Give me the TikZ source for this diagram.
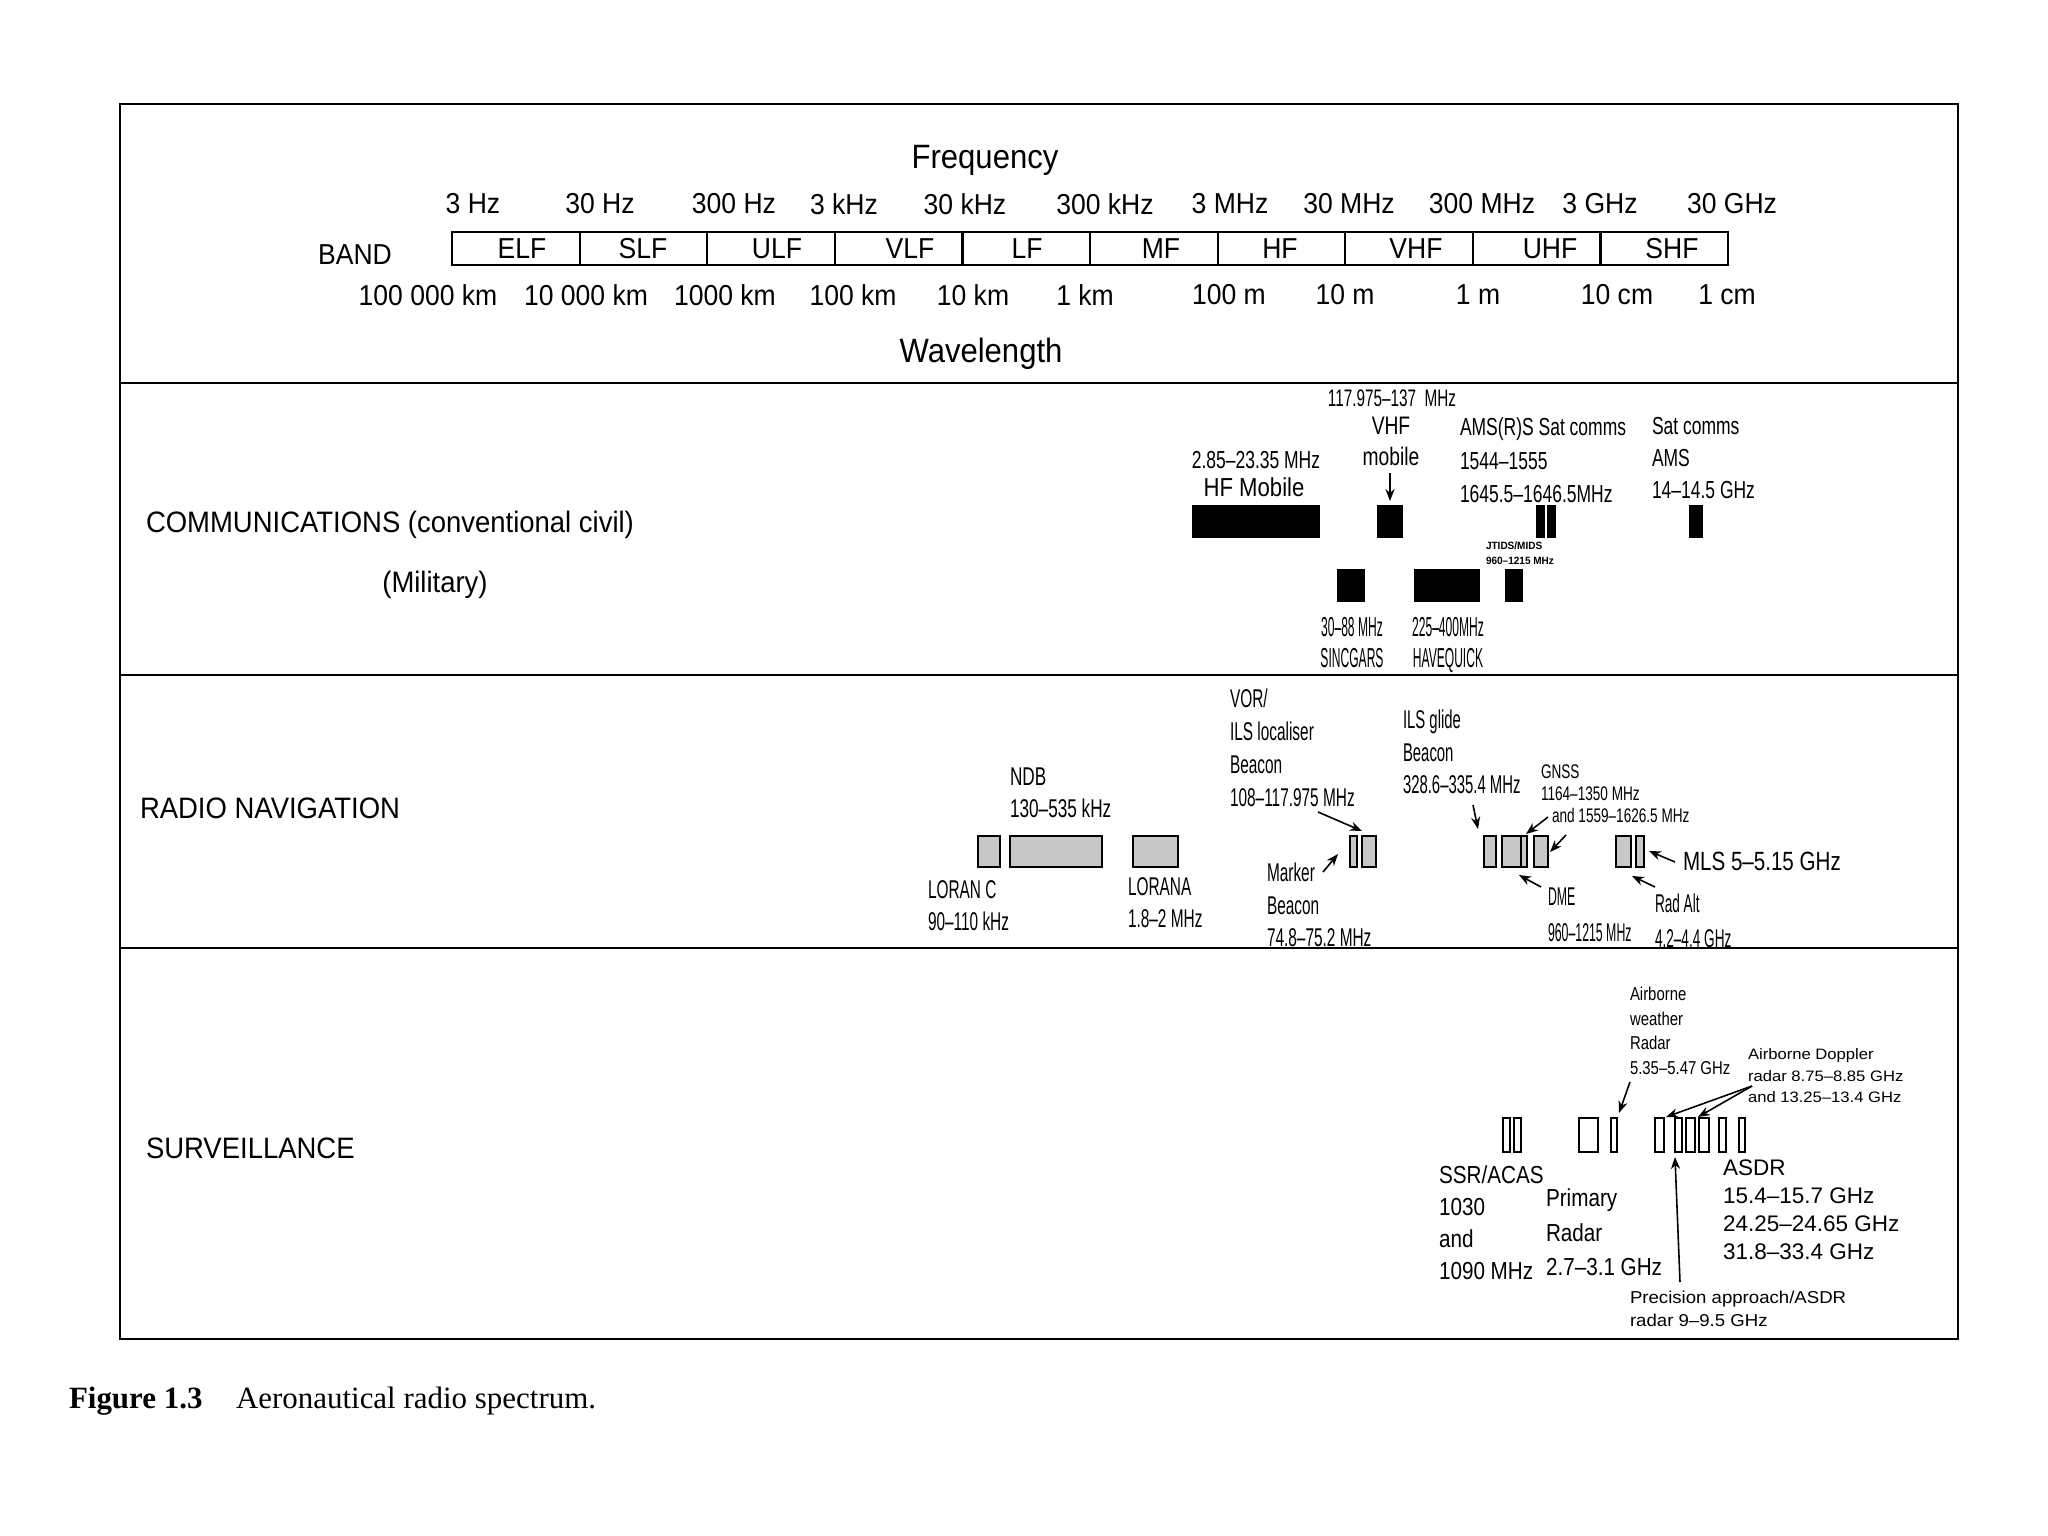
\documentclass[tikz,border=0pt]{standalone}
\usepackage{fontspec}
\setmainfont{Liberation Sans}
\newfontfamily\capfont{Liberation Serif}
\usetikzlibrary{arrows.meta,fit}
\definecolor{boxgray}{RGB}{200,200,200}
\newcommand\fsz[3]{\fontsize{#1}{#2}\selectfont\addfontfeatures{FakeStretch=#3}}
\newcommand\bx[6]{\node[#1, fit={(#3,#4) (#5,#6)}] (#2) {};}
\begin{document}
\begin{tikzpicture}[x=0.01cm,y=-0.01cm,
  txt/.style={inner sep=0pt, outer sep=0pt},
  ml/.style={txt, anchor=north west, align=left},
  mc/.style={txt, anchor=north, align=center},
  scalef/.style={txt, font=\fsz{8.2}{10}{0.92}},
  sectf/.style={txt, font=\fsz{8.4}{10}{0.93}},
  framel/.style={line width=0.8pt},
  divline/.style={line width=0.6pt},
  cell/.style={draw, line width=0.6pt, minimum width=1.276cm, minimum height=0.33cm, inner sep=0pt},
  blk/.style={fill=black, draw=none, inner sep=0pt},
  gry/.style={fill=boxgray, draw=black, line width=0.75pt, inner sep=0pt},
  wht/.style={fill=white, draw=black, line width=0.75pt, inner sep=0pt},
  arr/.style={-{Stealth[length=3.4pt,width=2.6pt]}, line width=0.45pt},
]
\useasboundingbox (0,0) rectangle (2048,1536);
\fill[white] (0,0) rectangle (2048,1536);

% frame
\draw[framel] (120,104) rectangle (1958,1339);
\foreach \y in {383,675,948} \draw[divline] (120,\y) -- (1958,\y);

% header
\node[txt, font=\fsz{9.6}{11}{0.92}] (freq) at (985,160) {Frequency};
\node[txt, font=\fsz{9.6}{11}{0.92}] (wave) at (981,354) {Wavelength};
\node[scalef] (band) at (355,255) {BAND};
\foreach \x/\t [count=\i] in {473/3 Hz,600/30 Hz,734/300 Hz,844/3 kHz,965/30 kHz,1105/300 kHz,1230/3 MHz,1349/30 MHz,1482/300 MHz,1600/3 GHz,1732/30 GHz}
  \node[scalef] (fq\i) at (\x,204) {\t};
\foreach \x/\t [count=\i] in {428/100 000 km,586/10 000 km,725/1000 km,853/100 km,973/10 km,1085/1 km,1229/100 m,1345/10 m,1478/1 m,1617/10 cm,1727/1 cm}
  \node[scalef] (wl\i) at (\x,295) {\t};
\foreach \n [count=\i from 0] in {elf,slf,ulf,vlf,lf,mf,hf,vhf,uhf,shf}
  \node[cell] (c\n) at ({515.8+127.6*\i},248.5) {};
\foreach \x/\t in {522/ELF,643/SLF,777/ULF,910/VLF,1027/LF,1161/MF,1280/HF,1416/VHF,1550/UHF,1672/SHF}
  \node[scalef] (b\t) at (\x,249) {\t};

% section titles
\node[sectf, anchor=west] (comm) at (146,525) {COMMUNICATIONS (conventional civil)};
\node[sectf] (mil) at (435,585) {(Military)};
\node[sectf, anchor=west] (radnav) at (140,808) {RADIO NAVIGATION};
\node[sectf, anchor=west] (surv) at (146,1148) {SURVEILLANCE};

% communications civil
\bx{blk}{hfm}{1192}{505}{1320}{538}
\bx{blk}{vhfm}{1377}{505}{1403}{538}
\bx{blk}{amsa}{1536}{505}{1545}{538}
\bx{blk}{amsb}{1547}{505}{1556}{538}
\bx{blk}{satc}{1689}{505}{1703}{538}
\node[txt, font=\fsz{6.8}{8}{0.64}] (vhfr) at (1392,398) {117.975–137~ MHz};
\node[mc, font=\fsz{7.2}{8.8}{0.76}] (vhfl) at (1391,417) {VHF\\mobile};
\node[txt, font=\fsz{7}{8}{0.71}] (hfr) at (1256,460) {2.85–23.35 MHz};
\node[txt, font=\fsz{7.4}{9}{0.85}] (hfl) at (1254,487) {HF Mobile};
\node[ml, font=\fsz{7}{9.5}{0.71}] (amsl) at (1460,418) {AMS(R)S Sat comms\\1544–1555\\1645.5–1646.5MHz};
\node[ml, font=\fsz{7}{9.1}{0.71}] (satl) at (1652,417) {Sat comms\\AMS\\14–14.5 GHz};

% communications military
\bx{blk}{sinc}{1337}{569}{1365}{602}
\bx{blk}{haveq}{1414}{569}{1480}{602}
\bx{blk}{jtids}{1505}{569}{1523}{602}
\node[mc, font=\fsz{7.8}{8.8}{0.44}] (sincl) at (1352,617) {30–88 MHz\\SINCGARS};
\node[mc, font=\fsz{7.8}{8.8}{0.44}] (haveql) at (1448,617) {225–400MHz\\HAVEQUICK};
\node[ml, font={\fsz{3}{4.3}{0.95}\bfseries}] (jtidsl) at (1486,542) {JTIDS/MIDS\\960–1215 MHz};

% radio navigation
\bx{gry}{loranc}{978}{836}{1000}{867}
\bx{gry}{ndb}{1010}{836}{1102}{867}
\bx{gry}{lorana}{1133}{836}{1178}{867}
\bx{gry}{marker}{1350}{836}{1357}{867}
\bx{gry}{vor}{1362}{836}{1376}{867}
\bx{gry}{ilsg}{1484}{836}{1496}{867}
\bx{gry}{dme}{1502}{836}{1527}{867}
\draw[line width=0.75pt] (1521,836) -- (1521,867);
\bx{gry}{gnss}{1534}{836}{1548}{867}
\bx{gry}{radalt}{1616}{836}{1631}{867}
\bx{gry}{mls}{1636}{836}{1644}{867}
\node[ml, font=\fsz{7.3}{9.1}{0.67}] (ndbl) at (1010,768) {NDB\\130–535 kHz};
\node[ml, font=\fsz{7.3}{9.1}{0.6}] (lorancl) at (928,881) {LORAN C\\90–110 kHz};
\node[ml, font=\fsz{7.3}{9.1}{0.6}] (loranal) at (1128,878) {LORANA\\1.8–2 MHz};
\node[ml, font=\fsz{7.3}{9.4}{0.6}] (vorl) at (1230,689) {VOR/\\ILS localiser\\Beacon\\108–117.975 MHz};
\node[ml, font=\fsz{7.3}{9.25}{0.6}] (markerl) at (1267,863) {Marker\\Beacon\\74.8–75.2 MHz};
\node[ml, font=\fsz{7.3}{9.25}{0.58}] (ilsgl) at (1403,710) {ILS glide\\Beacon\\328.6–335.4 MHz};
\node[ml, font=\fsz{5.6}{6.1}{0.69}] (gnssl) at (1541,765) {GNSS\\1164–1350 MHz};
\node[txt, anchor=west, font=\fsz{5.6}{6.1}{0.69}] (gnssl2) at (1552,815) {and 1559–1626.5 MHz};
\node[ml, font=\fsz{7.3}{10.2}{0.48}] (dmel) at (1548,888) {DME\\960–1215 MHz};
\node[ml, font=\fsz{7.3}{10}{0.53}] (radaltl) at (1655,894) {Rad Alt\\4.2–4.4 GHz};
\node[txt, anchor=west, font=\fsz{7.5}{9}{0.78}] (mlsl) at (1683,861) {MLS 5–5.15 GHz};

% surveillance
\bx{wht}{ssra}{1503}{1118}{1510}{1152}
\bx{wht}{ssrb}{1514}{1118}{1521}{1152}
\bx{wht}{prim}{1579}{1118}{1598}{1152}
\bx{wht}{wx}{1611}{1118}{1617}{1152}
\bx{wht}{sva}{1655}{1118}{1664}{1152}
\bx{wht}{svb}{1675}{1118}{1682}{1152}
\bx{wht}{svc}{1686}{1118}{1695}{1152}
\bx{wht}{svd}{1699}{1118}{1709}{1152}
\bx{wht}{sve}{1719}{1118}{1726}{1152}
\bx{wht}{svf}{1739}{1118}{1745}{1152}
\node[ml, font=\fsz{5.3}{7}{0.8}] (wxl) at (1630,987) {Airborne\\weather\\Radar\\5.35–5.47 GHz};
\node[ml, font=\fsz{4.3}{6}{1.1}] (dopl) at (1748,1049) {Airborne Doppler\\radar 8.75–8.85 GHz\\and 13.25–13.4 GHz};
\node[ml, font=\fsz{7}{9.1}{0.84}] (ssrl) at (1439,1166) {SSR/ACAS\\1030\\and\\1090 MHz};
\node[ml, font=\fsz{7}{9.8}{0.84}] (priml) at (1546,1189) {Primary\\Radar\\2.7–3.1 GHz};
\node[ml, font=\fsz{6.4}{7.9}{1.0}] (asdrl) at (1723,1160) {ASDR\\15.4–15.7 GHz\\24.25–24.65 GHz\\31.8–33.4 GHz};
\node[ml, font=\fsz{4.9}{6.5}{1.08}] (precl) at (1630,1291) {Precision approach/ASDR\\radar 9–9.5 GHz};

% arrows
\coordinate (a1s) at (1390,473); \coordinate (a1e) at (1390,501);
\coordinate (a2s) at (1318,812); \coordinate (a2e) at (1362,831);
\coordinate (a3s) at (1323,872); \coordinate (a3e) at (1338,854);
\coordinate (a4s) at (1473,805); \coordinate (a4e) at (1478,829);
\coordinate (a5s) at (1548,817); \coordinate (a5e) at (1526,834);
\coordinate (a6s) at (1566,835); \coordinate (a6e) at (1550,852);
\coordinate (a7s) at (1541,887); \coordinate (a7e) at (1519,875);
\coordinate (a8s) at (1675,862); \coordinate (a8e) at (1649,851);
\coordinate (a9s) at (1655,887); \coordinate (a9e) at (1632,876);
\coordinate (a10s) at (1630,1082); \coordinate (a10e) at (1619,1113);
\coordinate (a11s) at (1752,1086); \coordinate (a11e) at (1666,1117);
\coordinate (a12e) at (1698,1117);
\coordinate (a13s) at (1680,1282); \coordinate (a13e) at (1675,1157);
\foreach \s/\e in {a1s/a1e,a2s/a2e,a3s/a3e,a4s/a4e,a5s/a5e,a6s/a6e,a7s/a7e,a8s/a8e,a9s/a9e,a10s/a10e,a11s/a11e,a11s/a12e,a13s/a13e}
  \draw[arr] (\s) -- (\e);

% caption
\node[txt, anchor=base west, font={\capfont\fontsize{8.8}{10}\selectfont\bfseries}] (figno) at (69,1408) {Figure 1.3};
\node[txt, anchor=base west, font={\capfont\fontsize{8.8}{10}\selectfont}] (figcap) at (236,1408) {Aeronautical radio spectrum.};
\end{tikzpicture}
\end{document}
